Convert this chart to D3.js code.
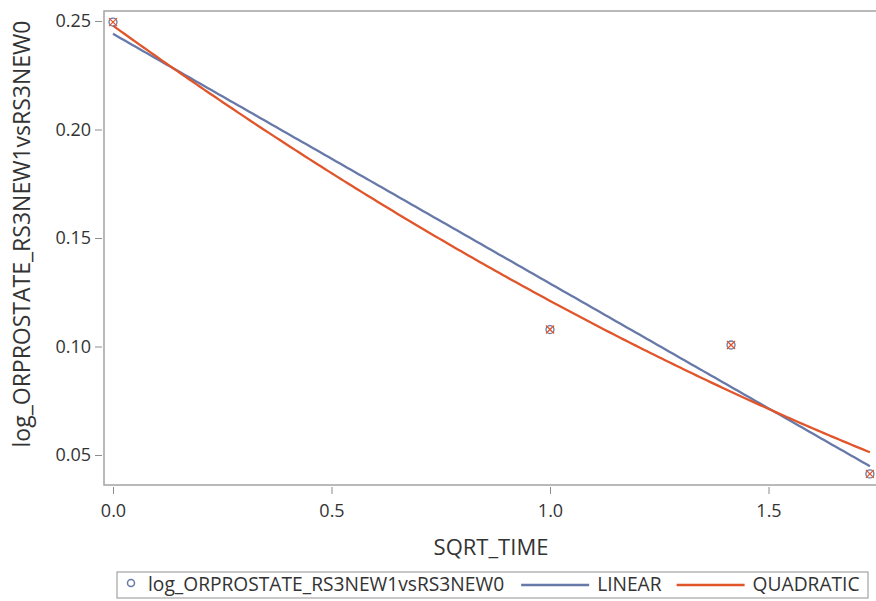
<!DOCTYPE html>
<html>
<head>
<meta charset="utf-8">
<script src="https://cdn.jsdelivr.net/npm/d3@7"></script>
<style>
  body { margin: 0; background: #fff; }
  svg text { font-family: "Open Sans", "Noto Sans", sans-serif; fill: #333; }
</style>
</head>
<body>
<div class="canvas"></div>
<script>
// data
const sqrtTime = [0, 1, Math.SQRT2, Math.sqrt(3)];
const logOR = [0.2495, 0.1078, 0.1007, 0.0413];
const xTicks = [0, 0.5, 1.0, 1.5];
const yTicks = [0.05, 0.10, 0.15, 0.20, 0.25];
const seriesNames = ['log_ORPROSTATE_RS3NEW1vsRS3NEW0', 'LINEAR', 'QUADRATIC'];

const blue = '#6779a8';
const red = '#e0552a';
const font = '"Open Sans", "Noto Sans", sans-serif';

const svg = d3.select('.canvas')
  .append('svg')
  .attr('width', 876)
  .attr('height', 601);

// scales
const x = d3.scaleLinear().domain([0, 1.5]).range([113, 768.5]);
const y = d3.scaleLinear().domain([0.05, 0.25]).range([455, 21]);

const frame = { left: 104, top: 11, right: 880, bottom: 485 };

// least squares fits (what the reg statements draw)
const n = sqrtTime.length;
const linFit = (() => {
  const mx = d3.mean(sqrtTime), my = d3.mean(logOR);
  let sxx = 0, sxy = 0;
  sqrtTime.forEach((v, i) => { sxx += (v - mx) ** 2; sxy += (v - mx) * (logOR[i] - my); });
  const b = sxy / sxx;
  return t => my + b * (t - mx);
})();

const quadFit = (() => {
  // normal equations for a + b t + c t^2
  const s = k => d3.sum(sqrtTime, v => v ** k);
  const sy = k => d3.sum(sqrtTime, (v, i) => v ** k * logOR[i]);
  const A = [[n, s(1), s(2)], [s(1), s(2), s(3)], [s(2), s(3), s(4)]];
  const B = [sy(0), sy(1), sy(2)];
  for (let i = 0; i < 3; i++) {
    for (let j = i + 1; j < 3; j++) {
      const f = A[j][i] / A[i][i];
      for (let k = i; k < 3; k++) A[j][k] -= f * A[i][k];
      B[j] -= f * B[i];
    }
  }
  const c = [0, 0, 0];
  for (let i = 2; i >= 0; i--) {
    let acc = B[i];
    for (let k = i + 1; k < 3; k++) acc -= A[i][k] * c[k];
    c[i] = acc / A[i][i];
  }
  return t => c[0] + c[1] * t + c[2] * t * t;
})();

const xMax = d3.max(sqrtTime);
const grid = d3.range(0, 201).map(i => xMax * i / 200);

// frame
svg.append('rect')
  .attr('x', frame.left)
  .attr('y', frame.top)
  .attr('width', frame.right - frame.left)
  .attr('height', frame.bottom - frame.top)
  .attr('fill', 'none')
  .attr('stroke', '#a3a3a3')
  .attr('stroke-width', 1.5);

// axes
const xAxis = d3.axisBottom(x).tickValues(xTicks).tickFormat(d3.format('.1f'))
  .tickSize(7).tickPadding(10);
const yAxis = d3.axisLeft(y).tickValues(yTicks).tickFormat(d3.format('.2f'))
  .tickSize(7).tickPadding(4);

const xAxisGroup = svg.append('g')
  .attr('transform', `translate(0, ${frame.bottom + 2})`)
  .call(xAxis);
const yAxisGroup = svg.append('g')
  .attr('transform', `translate(${frame.left - 2}, 0)`)
  .call(yAxis);

[xAxisGroup, yAxisGroup].forEach(g => {
  g.select('.domain').remove();
  g.selectAll('line').attr('stroke', '#8c8c8c');
  g.selectAll('text').attr('font-size', 18).attr('fill', '#333')
    .style('font-family', font);
});

// axis titles
svg.append('text')
  .attr('x', 491)
  .attr('y', 555)
  .attr('text-anchor', 'middle')
  .attr('font-size', 22)
  .text('SQRT_TIME');

svg.append('text')
  .attr('transform', 'translate(30, 234) rotate(-90)')
  .attr('text-anchor', 'middle')
  .attr('font-size', 23)
  .text(seriesNames[0]);

// fit lines
const line = f => d3.line().x(d => x(d)).y(d => y(f(d)));

const plot = svg.append('g');

plot.append('path')
  .datum(grid)
  .attr('d', line(linFit))
  .attr('fill', 'none')
  .attr('stroke', blue)
  .attr('stroke-width', 2.3);

plot.append('path')
  .datum(grid)
  .attr('d', line(quadFit))
  .attr('fill', 'none')
  .attr('stroke', red)
  .attr('stroke-width', 2.3);

// markers: blue circle with red X on top
const pts = sqrtTime.map((v, i) => ({ x: v, y: logOR[i] }));

plot.selectAll('circle.obs')
  .data(pts)
  .enter()
  .append('circle')
  .attr('class', 'obs')
  .attr('cx', d => x(d.x))
  .attr('cy', d => y(d.y))
  .attr('r', 4)
  .attr('fill', 'none')
  .attr('stroke', blue)
  .attr('stroke-width', 1.3);

plot.selectAll('path.xmark')
  .data(pts)
  .enter()
  .append('path')
  .attr('class', 'xmark')
  .attr('d', d => {
    const cx = x(d.x), cy = y(d.y), r = 4;
    return `M${cx - r},${cy - r}L${cx + r},${cy + r}M${cx - r},${cy + r}L${cx + r},${cy - r}`;
  })
  .attr('stroke', red)
  .attr('stroke-width', 1.3);

// legend
const legend = svg.append('g');
legend.append('rect')
  .attr('x', 117)
  .attr('y', 572)
  .attr('width', 751)
  .attr('height', 26)
  .attr('fill', '#fff')
  .attr('stroke', '#a3a3a3')
  .attr('stroke-width', 1.2);

const ly = 585;
legend.append('circle')
  .attr('cx', 131)
  .attr('cy', ly - 2)
  .attr('r', 3.5)
  .attr('fill', 'none')
  .attr('stroke', blue)
  .attr('stroke-width', 1.5);

const legendText = (xPos, label) => legend.append('text')
  .attr('x', xPos).attr('y', ly + 6)
  .attr('font-size', 19.2)
  .text(label);

const t1 = legendText(148, seriesNames[0]);
let cursor = 148 + t1.node().getComputedTextLength() + 17;
legend.append('line')
  .attr('x1', cursor).attr('x2', cursor + 68)
  .attr('y1', ly).attr('y2', ly)
  .attr('stroke', blue).attr('stroke-width', 2.5);
cursor += 76;
const t2 = legendText(cursor, seriesNames[1]);

cursor += t2.node().getComputedTextLength() + 15;
legend.append('line')
  .attr('x1', cursor).attr('x2', cursor + 68)
  .attr('y1', ly).attr('y2', ly)
  .attr('stroke', red).attr('stroke-width', 2.5);
cursor += 76;
legendText(cursor, seriesNames[2]);
</script>
</body>
</html>
